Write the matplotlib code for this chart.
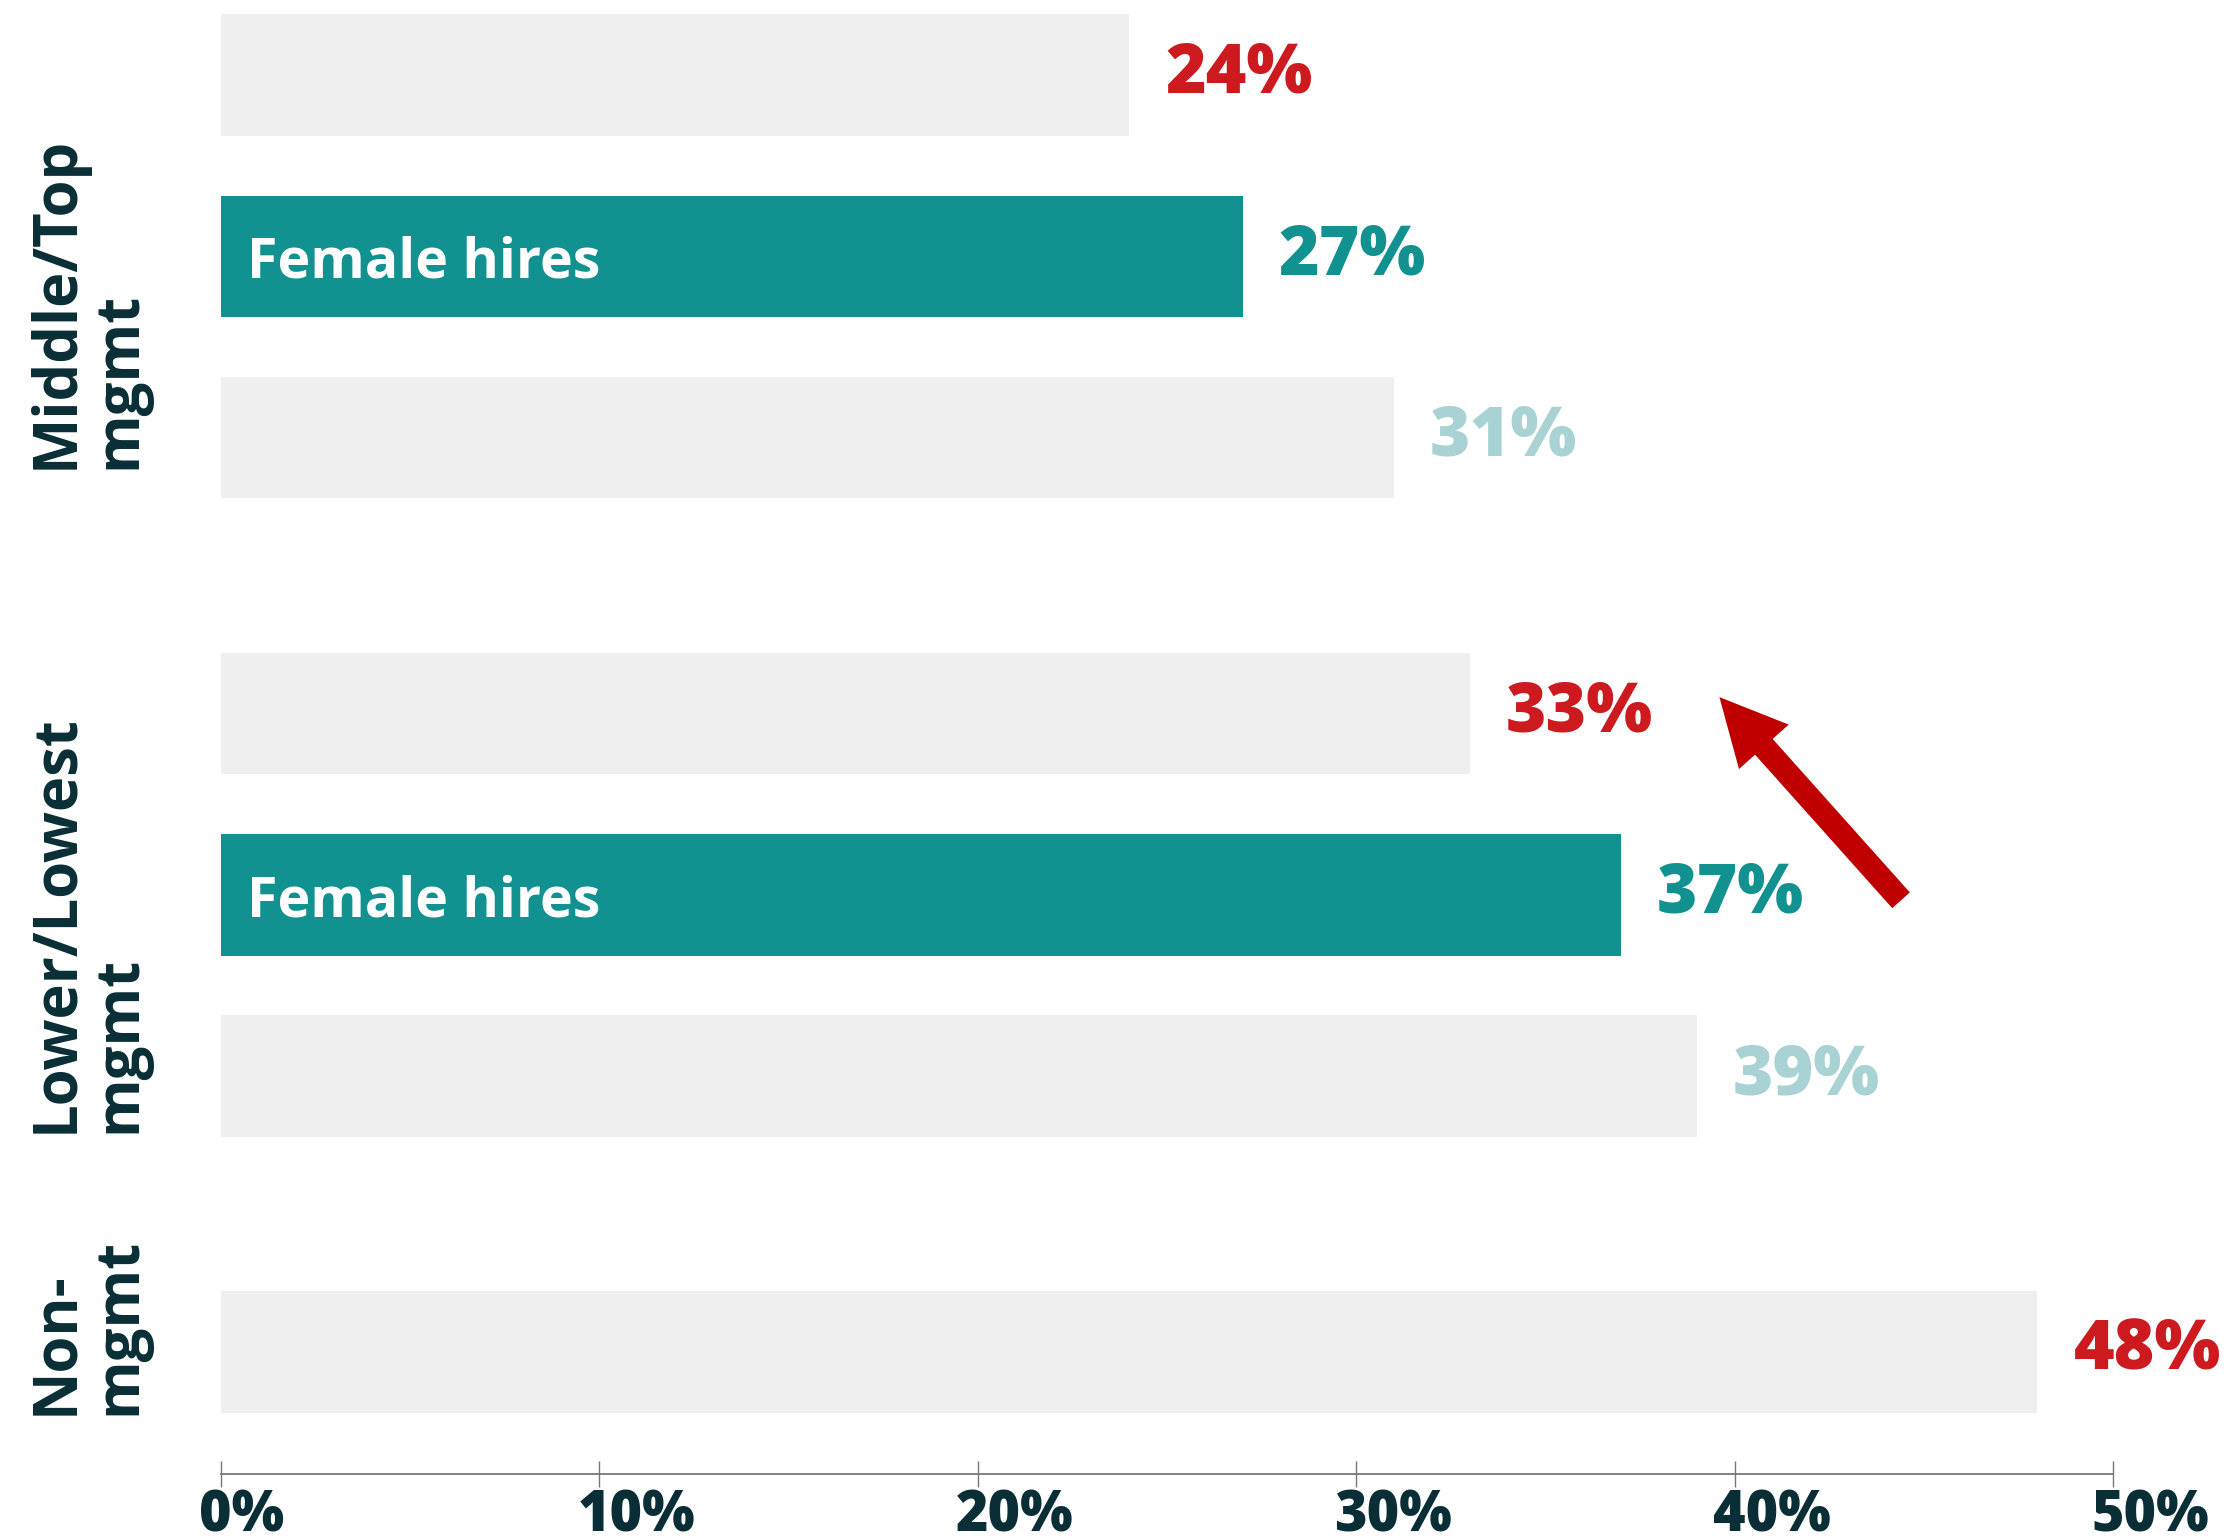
import matplotlib
matplotlib.use("Agg")
import matplotlib.pyplot as plt
from matplotlib.transforms import ScaledTranslation, blended_transform_factory

# Share of women by management level (percent)
groups = ["Middle/Top\nmgmt", "Lower/Lowest\nmgmt", "Non-\nmgmt"]
top_share = [24, 33, 48]          # first bar of each group (red label)
female_hires = [27, 37, None]     # highlighted bar
bottom_share = [31, 39, None]     # last bar of each group (pale label)
xticks = [0, 10, 20, 30, 40, 50]
xtick_labels = ["0%", "10%", "20%", "30%", "40%", "50%"]

GREY = "#EFEFEF"
TEAL = "#11918F"
RED = "#CC1A1F"
PALE = "#A8D2D4"
NAVY = "#0A2E36"
ARROW = "#C00000"

plt.rcParams["font.family"] = ["Open Sans", "DejaVu Sans"]

fig = plt.figure(figsize=(22.39, 15.39), dpi=100)
ax = fig.add_axes([0.0987, 0.0422, 0.8450, 0.9578])

step = 1.0
group_gap = 1.52
bar_h = 0.67

bars = []  # (y, value, colour, label colour, inside text)
y = 0.0
for i, g in enumerate(groups):
    series = [(top_share[i], GREY, RED, None),
              (female_hires[i], TEAL, TEAL, "Female hires"),
              (bottom_share[i], GREY, PALE, None)]
    for val, col, lcol, inner in series:
        if val is None:
            continue
        bars.append((y, val, col, lcol, inner))
        y += step
    y += group_gap - step

for yy, val, col, lcol, inner in bars:
    ax.barh(yy, val, height=bar_h, color=col, edgecolor="none")
    ax.annotate(f"{val}%", xy=(val, yy), xytext=(26, 0), textcoords="offset points",
                ha="left", va="center", fontsize=50, fontweight="heavy", color=lcol)
    if inner:
        ax.annotate(inner, xy=(0, yy), xytext=(19, -5), textcoords="offset points",
                    ha="left", va="center", fontsize=40, fontweight="bold", color="white")

# Group labels, rotated, to the left of the bars
label_y = [1.256, 4.68, 6.90]
trans = blended_transform_factory(fig.transFigure, ax.transData)
for g, ly in zip(groups, label_y):
    fig.text(0.0395, ly, g, transform=trans, rotation=90, ha="center", va="center",
             multialignment="left", fontsize=43, fontweight="bold", color=NAVY,
             linespacing=1.05)

# Arrow highlighting the gap
ax.annotate("", xy=(39.6, 3.43), xytext=(44.4, 4.55),
            arrowprops=dict(facecolor=ARROW, edgecolor="none", width=17,
                            headwidth=48, headlength=48, shrink=0))

ax.set_xlim(0, 50)
ax.set_ylim(7.713, -0.413)
ax.set_xticks(xticks)
ax.set_xticklabels(xtick_labels, fontsize=40, fontweight="heavy", color=NAVY)
ax.tick_params(axis="x", direction="inout", length=19, width=1.0, color="#777777", pad=1)
ax.tick_params(axis="y", left=False, labelleft=False)
for lab in ax.get_xticklabels():
    lab.set_horizontalalignment("left")
    lab.set_transform(lab.get_transform() + ScaledTranslation(-0.22, 0, fig.dpi_scale_trans))
for side in ["top", "right", "left"]:
    ax.spines[side].set_visible(False)
ax.spines["bottom"].set_color("#777777")
ax.spines["bottom"].set_linewidth(1.3)
ax.patch.set_alpha(0)

fig.savefig("out.png", dpi=100)
